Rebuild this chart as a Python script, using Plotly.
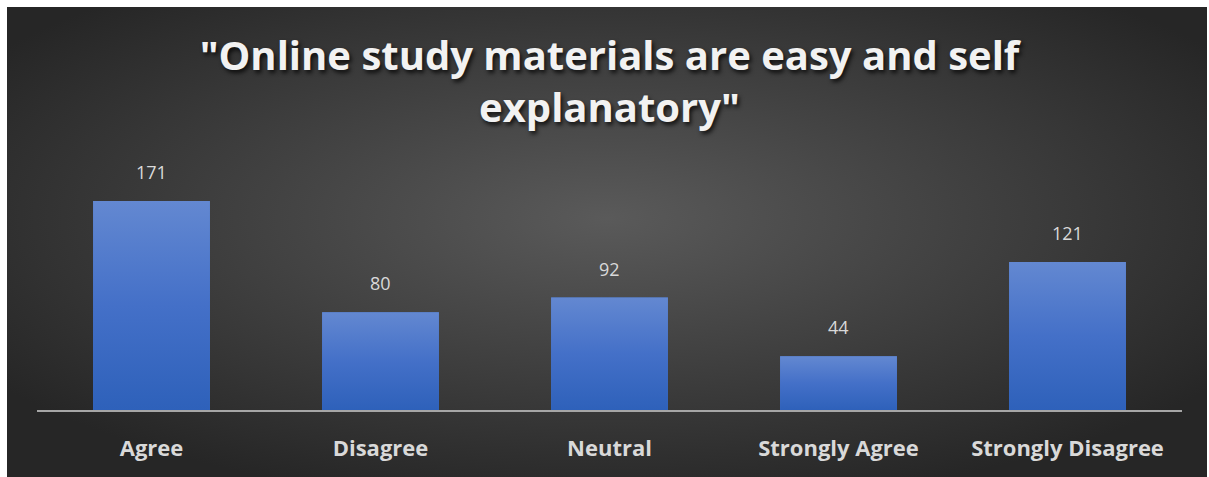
import base64
import plotly.graph_objects as go

categories = ["Agree", "Disagree", "Neutral", "Strongly Agree", "Strongly Disagree"]
responses = [171, 80, 92, 44, 121]
chart_title = '"Online study materials are easy and self<br>explanatory"'

W, H = 1209, 477
ML, MR, MT, MB = 37, 27, 190, 67
plot_w = W - ML - MR
plot_h = H - MT - MB
BAR_GAP = 0.49
BAR_W = 1 - BAR_GAP

# dark radial backdrop drawn as an SVG gradient
svg = (
    '<svg xmlns="http://www.w3.org/2000/svg" width="1200" height="470" preserveAspectRatio="none">'
    '<defs><radialGradient id="g" cx="50%" cy="45%" r="62%">'
    '<stop offset="0" stop-color="#5a5a5a"/>'
    '<stop offset="1" stop-color="#262626"/>'
    '</radialGradient></defs>'
    '<rect width="1200" height="470" fill="url(#g)"/></svg>'
)
bg_src = "data:image/svg+xml;base64," + base64.b64encode(svg.encode()).decode()

fig = go.Figure()
fig.add_trace(go.Bar(
    x=categories,
    y=responses,
    marker=dict(color="#4472c4", line=dict(width=0)),
    hoverinfo="x+y",
))

# vertical gradient fill laid over each bar (numeric twin of the category axis)
for i, v in enumerate(responses):
    x0, x1 = i - BAR_W / 2, i + BAR_W / 2
    fig.add_trace(go.Scatter(
        x=[x0, x1, x1, x0, x0],
        y=[0, 0, v, v, 0],
        xaxis="x2",
        mode="lines",
        line=dict(width=0),
        fill="toself",
        fillgradient=dict(type="vertical",
                          colorscale=[[0, "#2e61ba"], [0.5, "#4470c8"], [1, "#6388d1"]]),
        hoverinfo="skip",
    ))

for c, v in zip(categories, responses):
    fig.add_annotation(
        x=c, y=v, text=str(v), showarrow=False,
        yanchor="bottom", yshift=15,
        font=dict(family="Open Sans", size=18, color="#d9d9d9"),
    )

fig.update_layout(
    width=W, height=H,
    margin=dict(l=ML, r=MR, t=MT, b=MB, pad=0),
    paper_bgcolor="white",
    plot_bgcolor="rgba(0,0,0,0)",
    bargap=BAR_GAP,
    showlegend=False,
    title=dict(
        text=chart_title,
        x=0.5, xref="paper", xanchor="center",
        y=1 - 70 / H, yref="container", yanchor="top",
        font=dict(family="Open Sans", size=40, color="#f2f2f2", weight="bold",
                  shadow="2px 3px 4px rgba(0,0,0,0.75)"),
    ),
    xaxis=dict(
        showgrid=False, zeroline=False,
        showline=True, linecolor="#a6a6a6", linewidth=2,
        layer="above traces",
        ticks="", ticklabelstandoff=18,
        tickfont=dict(family="Open Sans", size=22, color="#d9d9d9", weight="bold"),
    ),
    xaxis2=dict(overlaying="x", range=[-0.5, len(categories) - 0.5], visible=False),
    yaxis=dict(range=[0, 180], visible=False, showgrid=False, zeroline=False),
    images=[dict(
        source=bg_src, xref="paper", yref="paper",
        x=(7 - ML) / plot_w, y=(H - MB - 7) / plot_h,
        sizex=1200 / plot_w, sizey=470 / plot_h,
        xanchor="left", yanchor="top",
        sizing="stretch", layer="below",
    )],
)

fig.write_html("out.html")
